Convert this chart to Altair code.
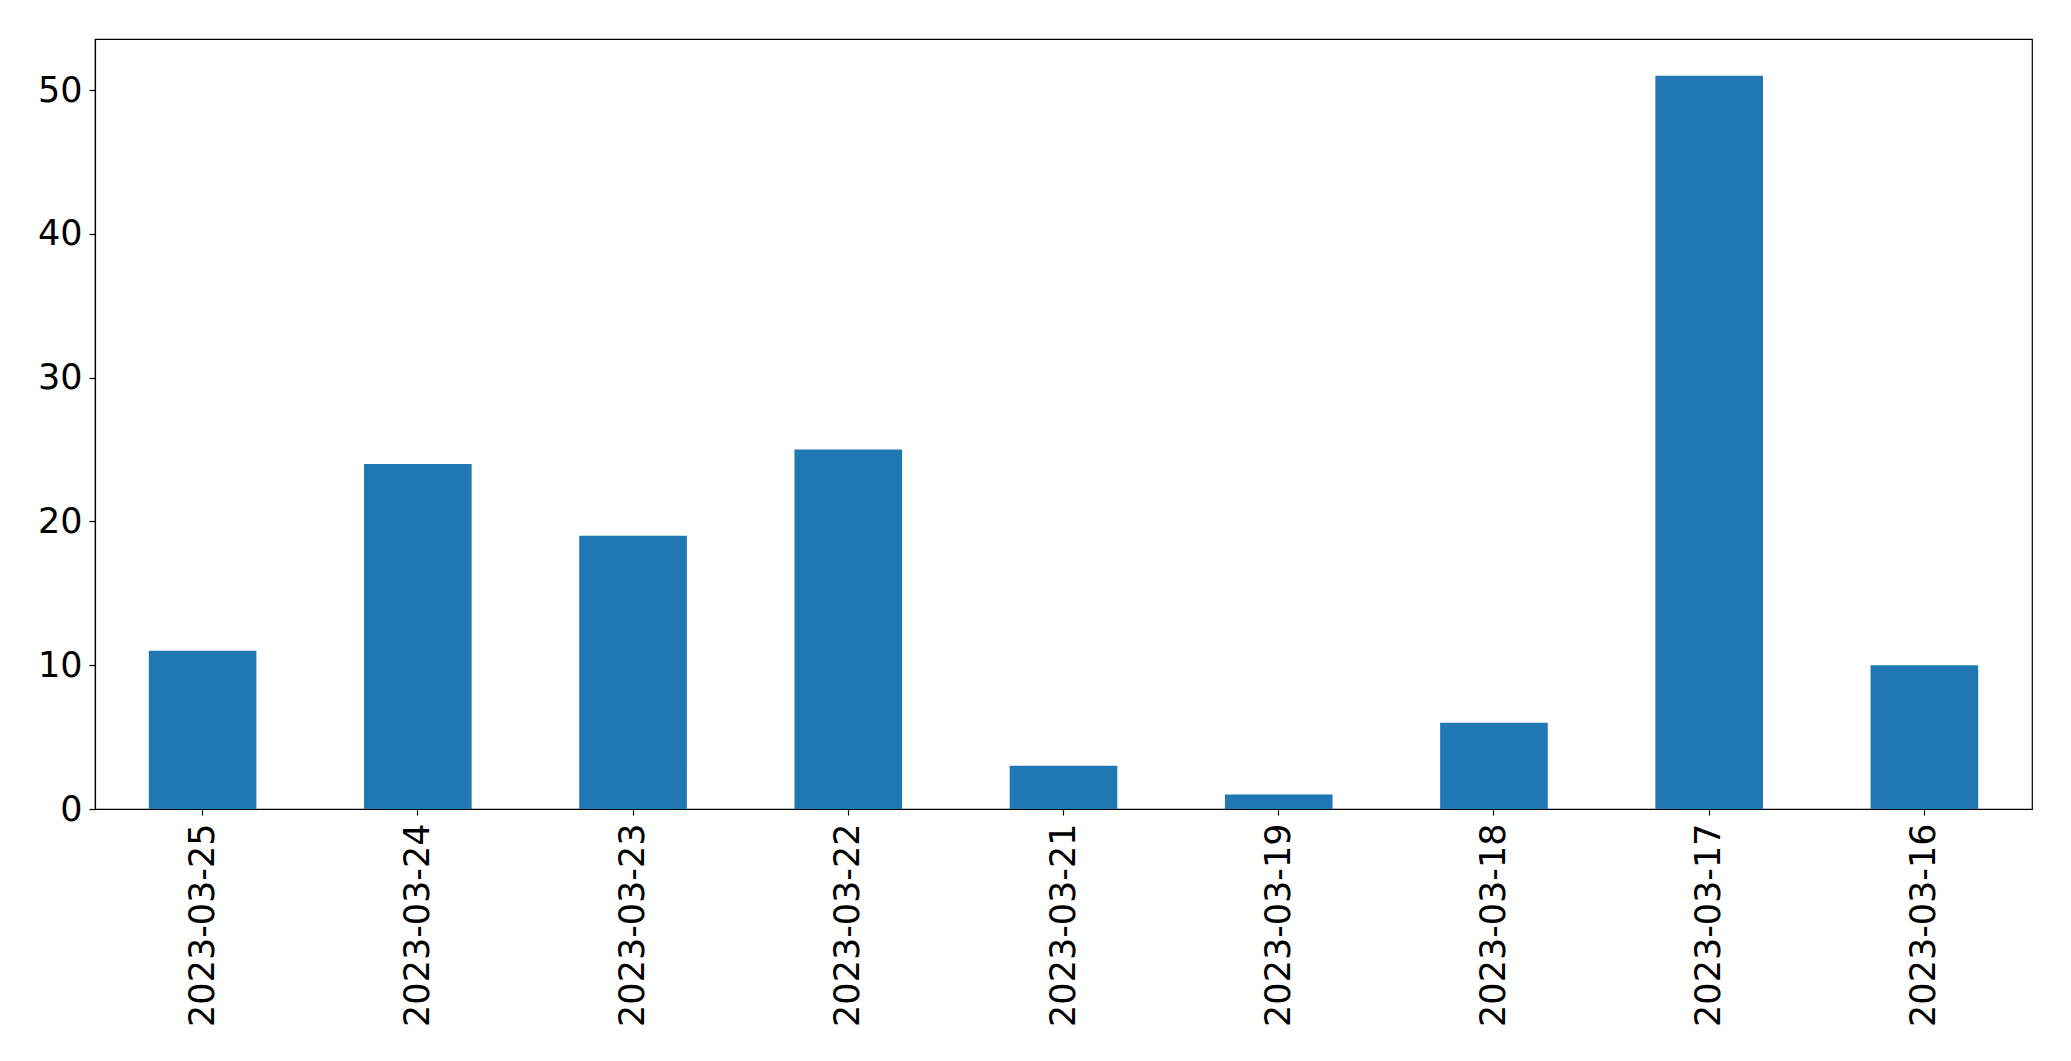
import altair as alt
import pandas as pd

dates = ["2023-03-25", "2023-03-24", "2023-03-23", "2023-03-22", "2023-03-21",
         "2023-03-19", "2023-03-18", "2023-03-17", "2023-03-16"]
counts = [11, 24, 19, 25, 3, 1, 6, 51, 10]
y_ticks = [0, 10, 20, 30, 40, 50]

df = pd.DataFrame({"date": dates, "count": counts})

chart = alt.Chart(df).mark_bar(color="#1f77b4").encode(
    x=alt.X("date:N", sort=dates, title=None,
            scale=alt.Scale(paddingInner=0.5, paddingOuter=0.25),
            axis=alt.Axis(labelAngle=-90, labelAlign="right", labelBaseline="middle",
                          labelFontSize=35, labelFont="DejaVu Sans", labelColor="black",
                          labelLimit=0, labelOverlap=False,
                          tickColor="black", tickSize=6, labelPadding=8,
                          domainColor="black", grid=False)),
    y=alt.Y("count:Q", title=None,
            scale=alt.Scale(domain=[0, 53.55], nice=False, zero=True),
            axis=alt.Axis(values=y_ticks, labelFontSize=35, labelFont="DejaVu Sans",
                          labelColor="black", tickColor="black", tickSize=6,
                          labelPadding=7, domainColor="black", grid=False)),
).properties(
    width=1937, height=770,
    autosize=alt.AutoSizeParams(type="none"),
    padding={"left": 87, "top": 31, "right": 30, "bottom": 230},
).configure_view(stroke="black", strokeWidth=1.2).configure_axis(domainWidth=1.2, tickWidth=1.2)

chart.save("out.html", embed_options={"renderer": "svg", "actions": False})
